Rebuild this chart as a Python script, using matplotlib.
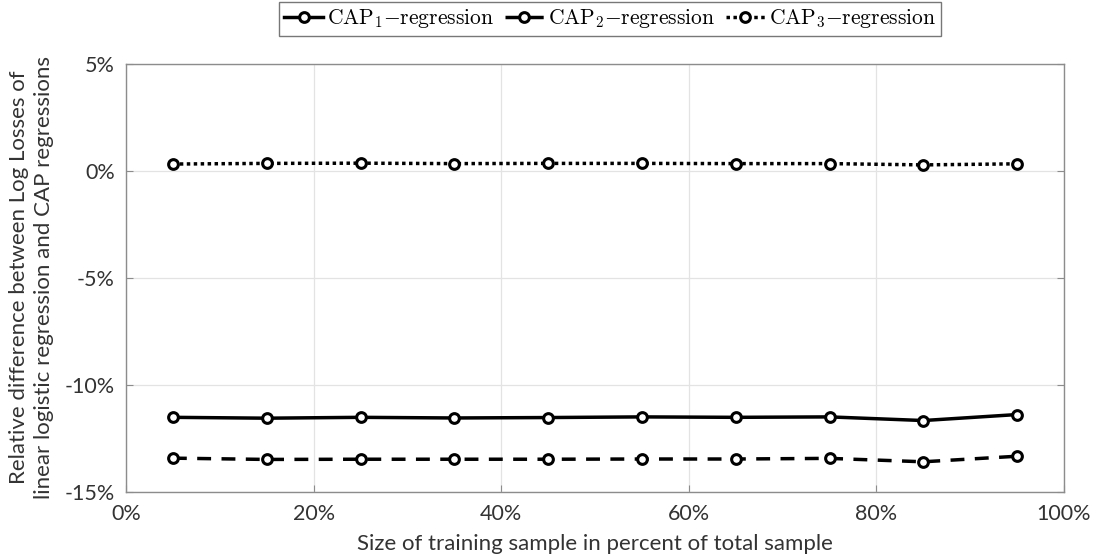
import numpy as np
import matplotlib
matplotlib.use("Agg")
from matplotlib import pyplot as plt
from matplotlib.ticker import FuncFormatter

# training sample size (percent of total sample)
sample_size = [5, 15, 25, 35, 45, 55, 65, 75, 85, 95]

# relative difference of log losses (percent)
cap1 = [-11.53, -11.57, -11.53, -11.56, -11.54, -11.51, -11.53, -11.51, -11.68, -11.40]
cap2 = [-13.44, -13.50, -13.49, -13.49, -13.49, -13.48, -13.48, -13.45, -13.61, -13.35]
cap3 = [0.32, 0.35, 0.36, 0.34, 0.35, 0.35, 0.34, 0.34, 0.28, 0.33]

series_labels = [r'$\mathrm{CAP}_1{-}\mathrm{regression}$',
                 r'$\mathrm{CAP}_2{-}\mathrm{regression}$',
                 r'$\mathrm{CAP}_3{-}\mathrm{regression}$']

plt.rcParams['mathtext.fontset'] = 'cm'
plt.rcParams['font.family'] = ['Lato', 'DejaVu Sans']

fig = plt.figure(figsize=(10.94, 5.59), dpi=100)
ax = fig.add_axes([126 / 1094, 1 - 491.5 / 559, (1064 - 126) / 1094, (491.5 - 64) / 559])

marker_kw = dict(marker='o', markersize=7, markerfacecolor='white',
                 markeredgecolor='black', markeredgewidth=2.2, color='black', linewidth=2.5)

ax.plot(sample_size, cap1, linestyle='-', label=series_labels[0], **marker_kw)
ax.plot(sample_size, cap2, linestyle=(0, (4, 3)), label=series_labels[1], **marker_kw)
ax.plot(sample_size, cap3, linestyle=(0, (1, 1)), label=series_labels[2], **marker_kw)

ax.set_xlim(0, 100)
ax.set_ylim(-15, 5)
ax.set_xticks(np.arange(0, 101, 20))
ax.set_yticks(np.arange(-15, 6, 5))
ax.xaxis.set_major_formatter(FuncFormatter(lambda v, p: f'{v:.0f}%'))
ax.yaxis.set_major_formatter(FuncFormatter(lambda v, p: f'{v:.0f}%'))

# Matlab-ish look
ax.grid(color='#e3e3e3', linewidth=0.9)
ax.set_axisbelow(True)
for s in ax.spines.values():
    s.set_color('#8c8c8c')
    s.set_linewidth(1.0)
ax.tick_params(direction='in', length=5, color='#8c8c8c', labelsize=15.5,
               labelcolor='#333333', right=True)
ax.tick_params(axis='x', pad=9)
ax.tick_params(axis='y', pad=8)

ax.set_xlabel('Size of training sample in percent of total sample', fontsize=16,
              color='#333333', labelpad=7)
ax.set_ylabel('Relative difference between Log Losses of\n'
              'linear logistic regression and CAP regressions',
              fontsize=16, color='#333333', labelpad=8, linespacing=1.3)

leg = fig.legend(loc='center', bbox_to_anchor=(610 / 1094, 1 - 19 / 559), ncol=3,
                 fontsize=15.5, frameon=True, fancybox=False, edgecolor='#555555',
                 handlelength=1.8, handletextpad=0.2, columnspacing=0.5,
                 borderpad=0.25, borderaxespad=0)
leg.get_frame().set_linewidth(1.0)

fig.savefig('out.png', dpi=100)
